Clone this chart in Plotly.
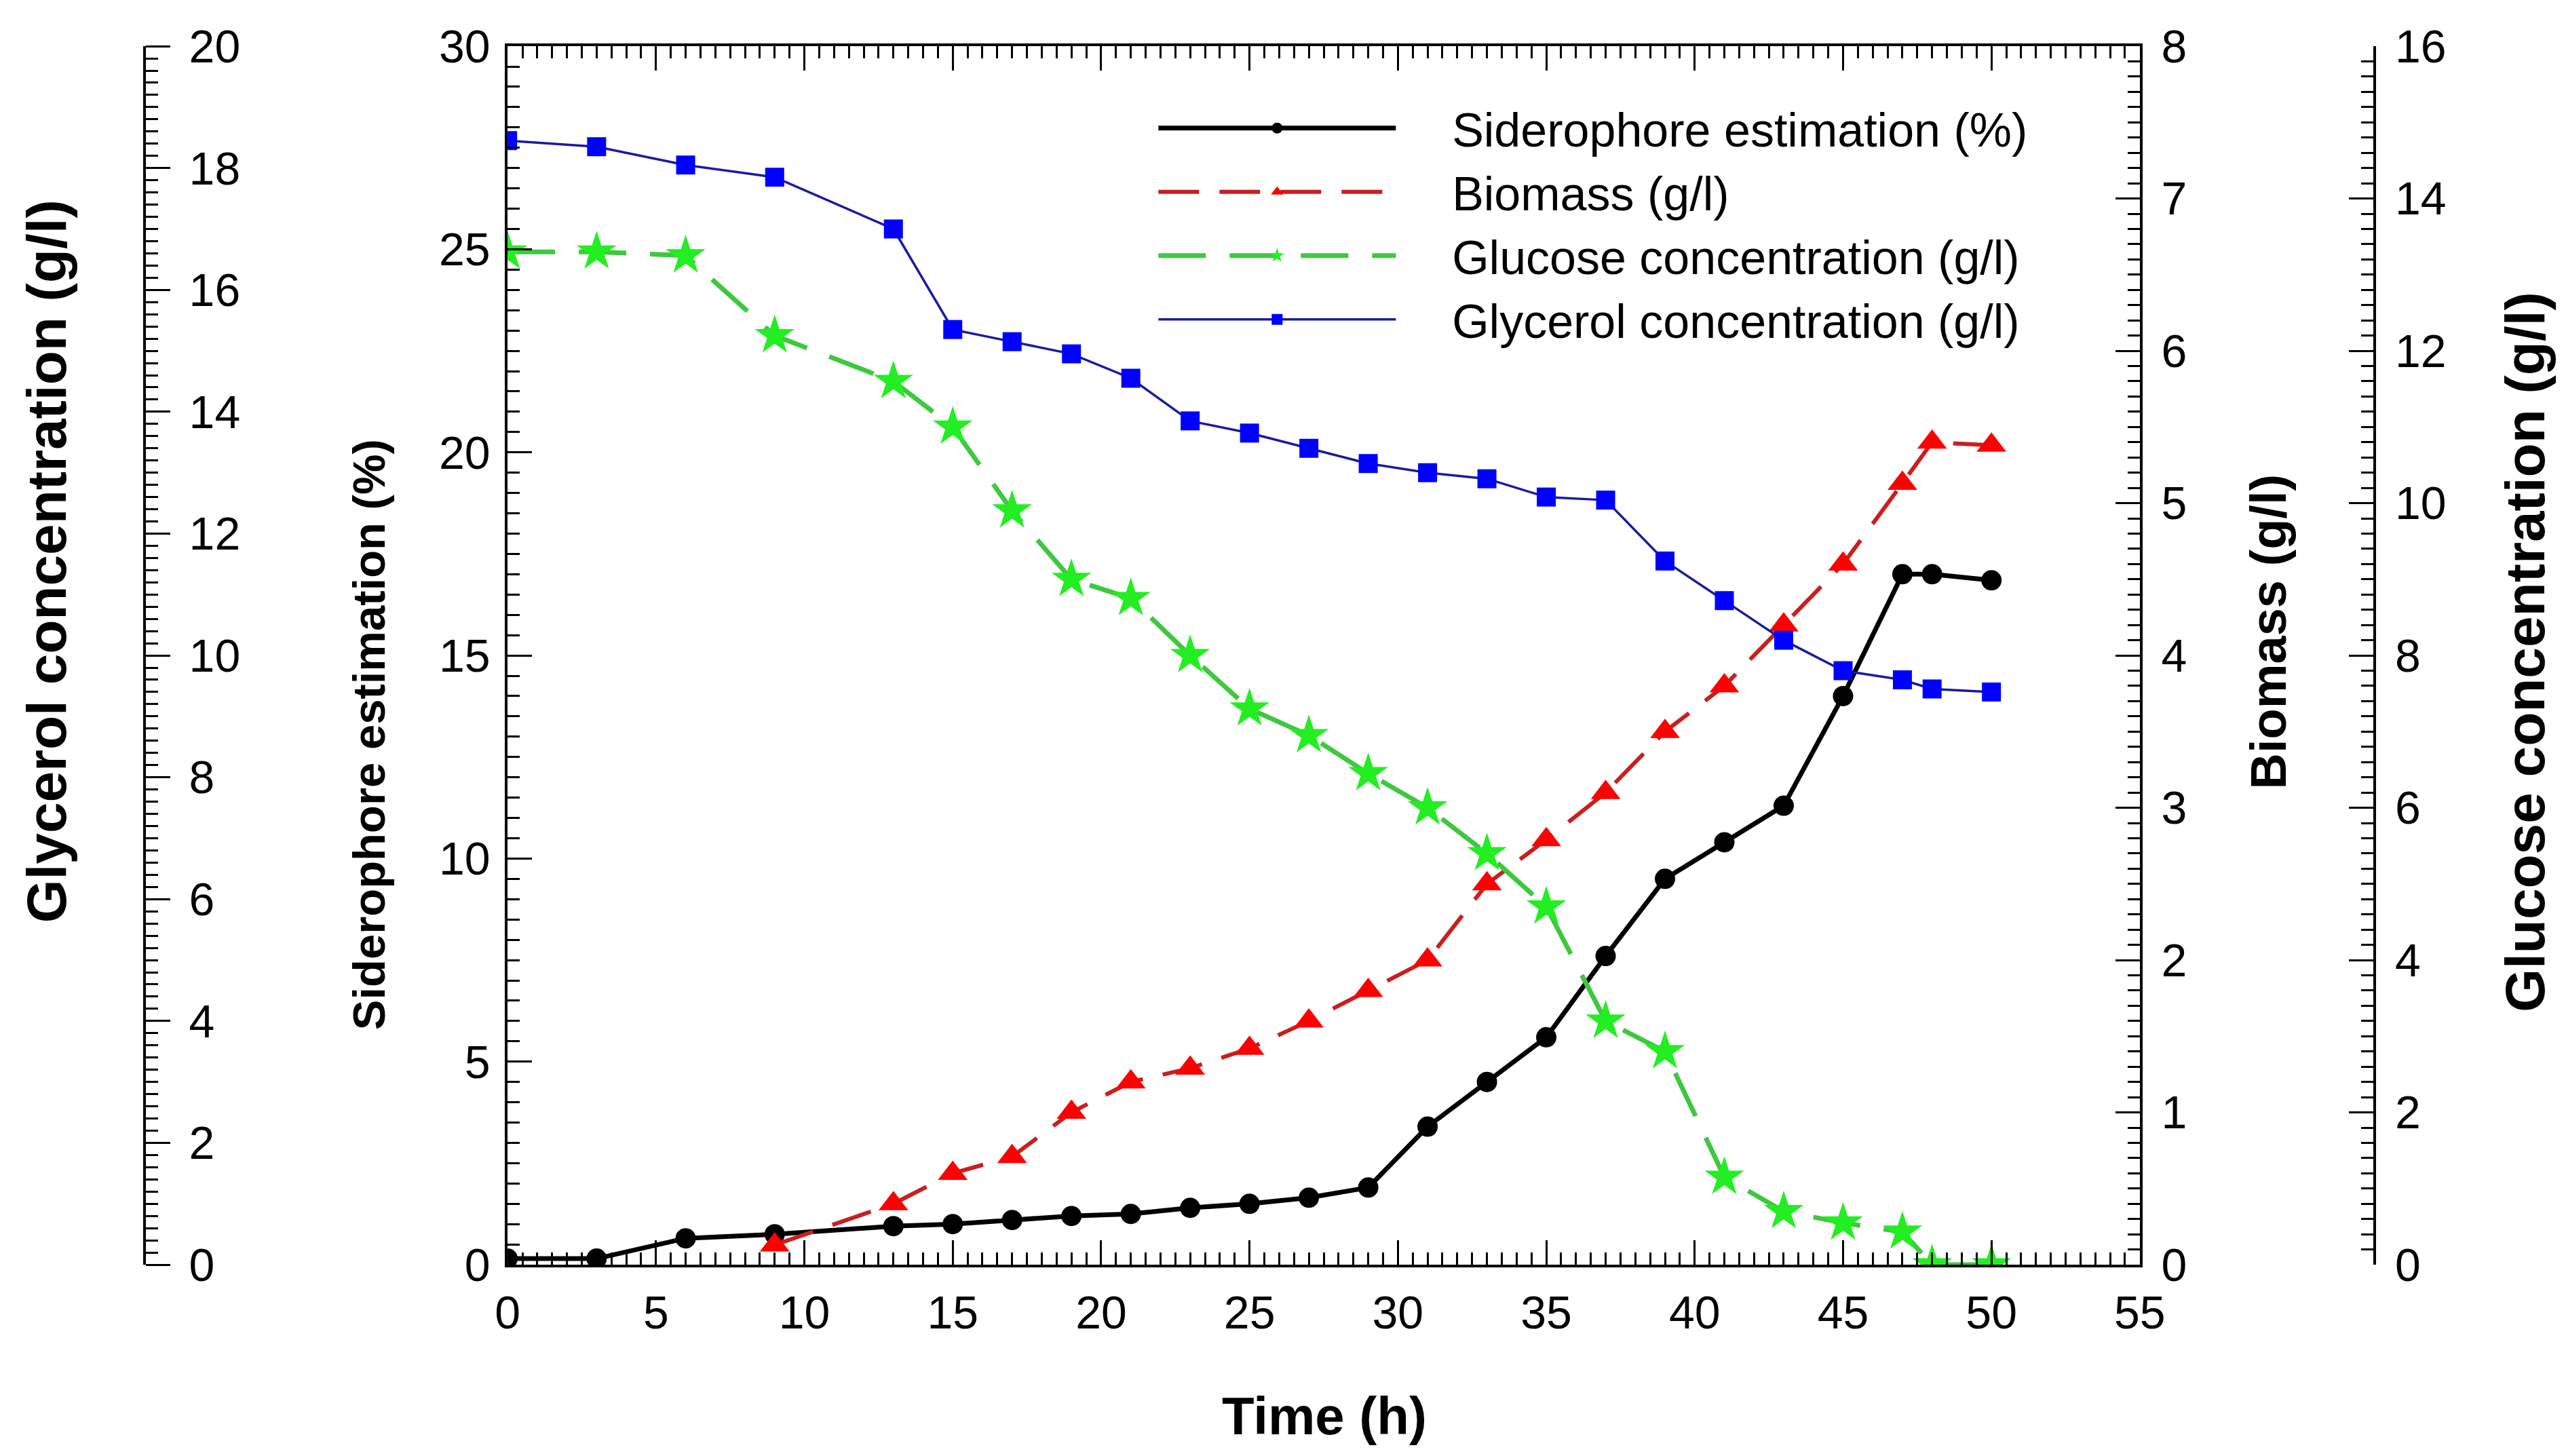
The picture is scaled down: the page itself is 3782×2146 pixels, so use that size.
import plotly.graph_objects as go

# sampling times (h)
time = [0, 3, 6, 9, 13, 15, 17, 19, 21, 23, 25, 27, 29, 31, 33, 35, 37, 39, 41, 43, 45, 47, 48, 50]

# siderophore estimation (%) - left axis
siderophore = [0.15, 0.15, 0.65, 0.75, 0.95, 1.0, 1.1, 1.2, 1.25, 1.4, 1.5, 1.65, 1.9,
               3.4, 4.5, 5.6, 7.6, 9.5, 10.4, 11.3, 14.0, 17.0, 17.0, 16.85]

# biomass (g/l) - right axis, starts at 9 h
time_bio = [9, 13, 15, 17, 19, 21, 23, 25, 27, 29, 31, 33, 35, 37, 39, 41, 43, 45, 47, 48, 50]
biomass = [0.13, 0.4, 0.6, 0.71, 1.0, 1.2, 1.29, 1.42, 1.6, 1.8, 2.0, 2.5, 2.79, 3.1,
           3.5, 3.8, 4.2, 4.6, 5.13, 5.4, 5.38]

# glucose concentration (g/l) - far right axis
glucose = [13.3, 13.3, 13.25, 12.2, 11.6, 11.0, 9.9, 9.0, 8.75, 8.0, 7.3, 6.95, 6.45,
           6.0, 5.4, 4.7, 3.2, 2.8, 1.15, 0.7, 0.55, 0.43, 0.0, 0.0]

# glycerol concentration (g/l) - far left axis
glycerol = [18.45, 18.35, 18.05, 17.85, 17.0, 15.35, 15.15, 14.95, 14.55, 13.85, 13.65,
            13.4, 13.15, 13.0, 12.9, 12.6, 12.55, 11.55, 10.9, 10.25, 9.75, 9.6, 9.45, 9.4]

FONT = "Liberation Sans, Arial, sans-serif"
TICK_SIZE = 68
LEGEND_SIZE = 70
GAP = "\u00a0" * 4  # space between legend line sample and text

fig = go.Figure()

fig.add_trace(go.Scatter(
    x=time, y=siderophore, name=GAP + "Siderophore estimation (%)", yaxis="y",
    mode="lines+markers", line=dict(color="black", width=7),
    marker=dict(symbol="circle", size=30, color="black")))

fig.add_trace(go.Scatter(
    x=time_bio, y=biomass, name=GAP + "Biomass (g/l)", yaxis="y2",
    mode="lines+markers", line=dict(color="#c8201e", width=6, dash="60px,30px"),
    marker=dict(symbol="triangle-up", size=38, color="#ff0000")))

fig.add_trace(go.Scatter(
    x=time, y=glucose, name=GAP + "Glucose concentration (g/l)", yaxis="y4",
    mode="lines+markers", line=dict(color="#3ec83e", width=7, dash="70px,35px"),
    marker=dict(symbol="star", size=44, color="#22ee22")))

fig.add_trace(go.Scatter(
    x=time, y=glycerol, name=GAP + "Glycerol concentration (g/l)", yaxis="y3",
    mode="lines+markers", line=dict(color="#1a1aa0", width=3.5),
    marker=dict(symbol="square", size=28, color="#0000ff")))

axis_common = dict(
    showline=True, linecolor="black", linewidth=4, showgrid=False, zeroline=False,
    tickcolor="black", tickwidth=3, ticklen=36,
    tickfont=dict(family=FONT, size=TICK_SIZE, color="black"),
)
minor_common = dict(ticklen=18, tickwidth=3, tickcolor="black", showgrid=False)

main_dom = [0.1351, 0.972]

fig.update_layout(
    width=3782, height=2146,
    template="none",
    paper_bgcolor="white", plot_bgcolor="white",
    margin=dict(l=0, r=0, t=0, b=0),
    font=dict(family=FONT, color="black"),
    xaxis=dict(
        **axis_common, domain=[0.1957, 0.8318], range=[0, 55], dtick=5,
        ticks="inside", mirror="ticks", ticklabelstandoff=8,
        minor=dict(**minor_common, dtick=0.5, ticks="inside"),
        automargin=False,
    ),
    yaxis=dict(
        **axis_common, domain=main_dom, range=[0, 30], dtick=5, anchor="x",
        ticks="inside", side="left", ticklabelstandoff=8,
        minor=dict(**minor_common, dtick=0.5, ticks="inside"),
        automargin=False,
    ),
    yaxis2=dict(
        **axis_common, domain=main_dom, range=[0, 8], dtick=1, anchor="x",
        overlaying="y", side="right", ticks="inside", ticklabelstandoff=14,
        minor=dict(**minor_common, dtick=0.1, ticks="inside"),
        automargin=False,
    ),
    yaxis3=dict(
        **axis_common, domain=main_dom, range=[0, 20], dtick=2, anchor="free",
        position=0.0542, overlaying="y", side="right", ticks="outside",
        ticklabelstandoff=14,
        minor=dict(**minor_common, dtick=0.2, ticks="outside"),
        automargin=False,
    ),
    yaxis4=dict(
        **axis_common, domain=main_dom, range=[0, 16], dtick=2, anchor="free",
        position=0.9234, overlaying="y", side="right", ticks="inside",
        ticklabelstandoff=14,
        minor=dict(**minor_common, dtick=0.2, ticks="inside"),
        automargin=False,
    ),
    legend=dict(
        x=0.448, y=0.94, xanchor="left", yanchor="top",
        bgcolor="rgba(255,255,255,0)", borderwidth=0,
        font=dict(family=FONT, size=LEGEND_SIZE, color="black"),
        itemwidth=350, tracegroupgap=0,
    ),
    showlegend=True,
)

# axis titles (the outer axes use a larger type in the original figure)
titles = [
    ("<b>Time (h)</b>", 0.514, 0.031, 0, 78),
    ("<b>Siderophore estimation (%)</b>", 0.1415, 0.499, -90, 67),
    ("<b>Glycerol concentration (g/l)</b>", 0.016, 0.618, -90, 82),
    ("<b>Biomass (g/l)</b>", 0.882, 0.570, -90, 74),
    ("<b>Glucose concentration (g/l)</b>", 0.982, 0.556, -90, 82),
]
for text, tx, ty, ang, size in titles:
    fig.add_annotation(text=text, x=tx, y=ty, xref="paper", yref="paper",
                       showarrow=False, textangle=ang,
                       font=dict(family=FONT, size=size, color="black"),
                       xanchor="center", yanchor="middle")

fig.write_html("out.html")
